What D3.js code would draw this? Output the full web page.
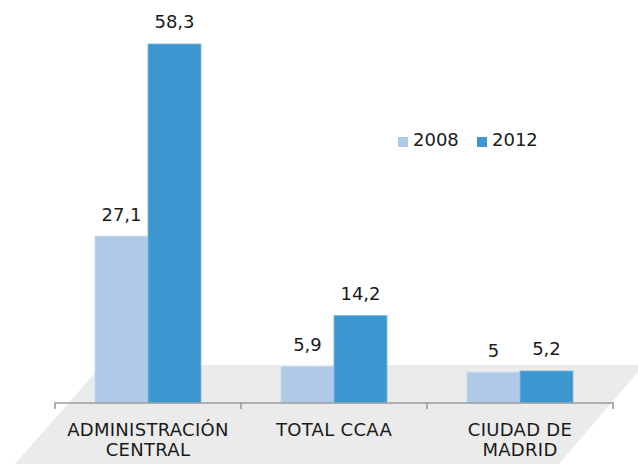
<!DOCTYPE html>
<html>
<head>
<meta charset="utf-8">
<script src="https://cdn.jsdelivr.net/npm/d3@7"></script>
<style>
  html, body { margin: 0; padding: 0; background: #ffffff; }
  svg { display: block; }
  text { font-family: "DejaVu Sans", Verdana, sans-serif; fill: #1a1a1a; }
</style>
</head>
<body>
<svg id="chart" width="638" height="464"></svg>
<script>
const categories = ["ADMINISTRACIÓN\nCENTRAL", "TOTAL CCAA", "CIUDAD DE\nMADRID"];
const seriesNames = ["2008", "2012"];
const values2008 = [27.1, 5.9, 5];
const values2012 = [58.3, 14.2, 5.2];
const colors = ["#aecae7", "#3d97d0"];

const svg = d3.select("#chart");
const axisY = 403;

const x = d3.scaleBand().domain(categories).range([55, 613]).paddingInner(0).paddingOuter(0);
const x1 = d3.scaleBand().domain(seriesNames).range([0, x.bandwidth()]).paddingInner(0).paddingOuter(0.755);
const y = d3.scaleLinear().domain([0, 60]).range([axisY, 33.5]);

// floor (pseudo-3D plane)
const slopeL = 0.88, slopeR = 0.86;
const floorTop = 365, floorBot = 475;
svg.append("polygon")
  .attr("points", [
    [102, floorTop], [644, floorTop],
    [644 - (floorBot - floorTop) * slopeR, floorBot],
    [102 - (floorBot - floorTop) * slopeL, floorBot]
  ].map(p => p.join(",")).join(" "))
  .attr("fill", "#ebebeb");

// bars
const data = categories.map((c, i) => ({ cat: c, vals: [values2008[i], values2012[i]] }));
const groups = svg.selectAll("g.grp").data(data).enter().append("g")
  .attr("class", "grp")
  .attr("transform", d => `translate(${x(d.cat)},0)`);

groups.selectAll("rect").data(d => d.vals.map((v, k) => ({ v, s: seriesNames[k], k })))
  .enter().append("rect")
  .attr("x", d => x1(d.s))
  .attr("y", d => y(d.v))
  .attr("width", x1.bandwidth())
  .attr("height", d => axisY - y(d.v))
  .attr("fill", d => colors[d.k])
  .attr("stroke", d => d.k === 1 ? "#7fb8e0" : "#c3d8ee")
  .attr("stroke-width", 0.8);

const fmt = v => String(v).replace(".", ",");
groups.selectAll("text.val").data(d => d.vals.map((v, k) => ({ v, s: seriesNames[k] })))
  .enter().append("text")
  .attr("class", "val")
  .attr("x", d => x1(d.s) + x1.bandwidth() / 2)
  .attr("y", d => y(d.v) - 15.5)
  .attr("text-anchor", "middle")
  .attr("font-size", 18)
  .text(d => fmt(d.v));

// axis
const axisG = svg.append("g").attr("transform", `translate(0,${axisY})`);
const edges = d3.range(categories.length + 1).map(i => x.range()[0] + i * x.step());
axisG.append("line")
  .attr("x1", edges[0]).attr("x2", edges[edges.length - 1])
  .attr("y1", 0).attr("y2", 0)
  .attr("stroke", "#9d9d9d").attr("stroke-width", 1.6);
axisG.selectAll("line.tick").data(edges).enter().append("line")
  .attr("class", "tick")
  .attr("x1", d => d).attr("x2", d => d)
  .attr("y1", -0.8).attr("y2", 6)
  .attr("stroke", "#9d9d9d").attr("stroke-width", 1.6);

// category labels
const labels = svg.selectAll("text.cat").data(categories).enter().append("text")
  .attr("class", "cat")
  .attr("text-anchor", "middle")
  .attr("font-size", 18)
  .attr("letter-spacing", 0.3)
  .attr("x", d => x(d) + x.bandwidth() / 2)
  .attr("y", 436);
labels.selectAll("tspan").data(d => d.split("\n").map((t, i) => ({ t, i })))
  .enter().append("tspan")
  .attr("x", function () { return d3.select(this.parentNode).attr("x"); })
  .attr("dy", d => d.i === 0 ? 0 : 20)
  .text(d => d.t);

// legend
const legendX = [398, 477];
const legend = svg.selectAll("g.leg").data(seriesNames).enter().append("g")
  .attr("class", "leg")
  .attr("transform", (d, i) => `translate(${legendX[i]},137)`);
legend.append("rect").attr("width", 10).attr("height", 10).attr("fill", (d, i) => colors[i]);
legend.append("text").attr("x", 15).attr("y", 9).attr("font-size", 18).text(d => d);
</script>
</body>
</html>
